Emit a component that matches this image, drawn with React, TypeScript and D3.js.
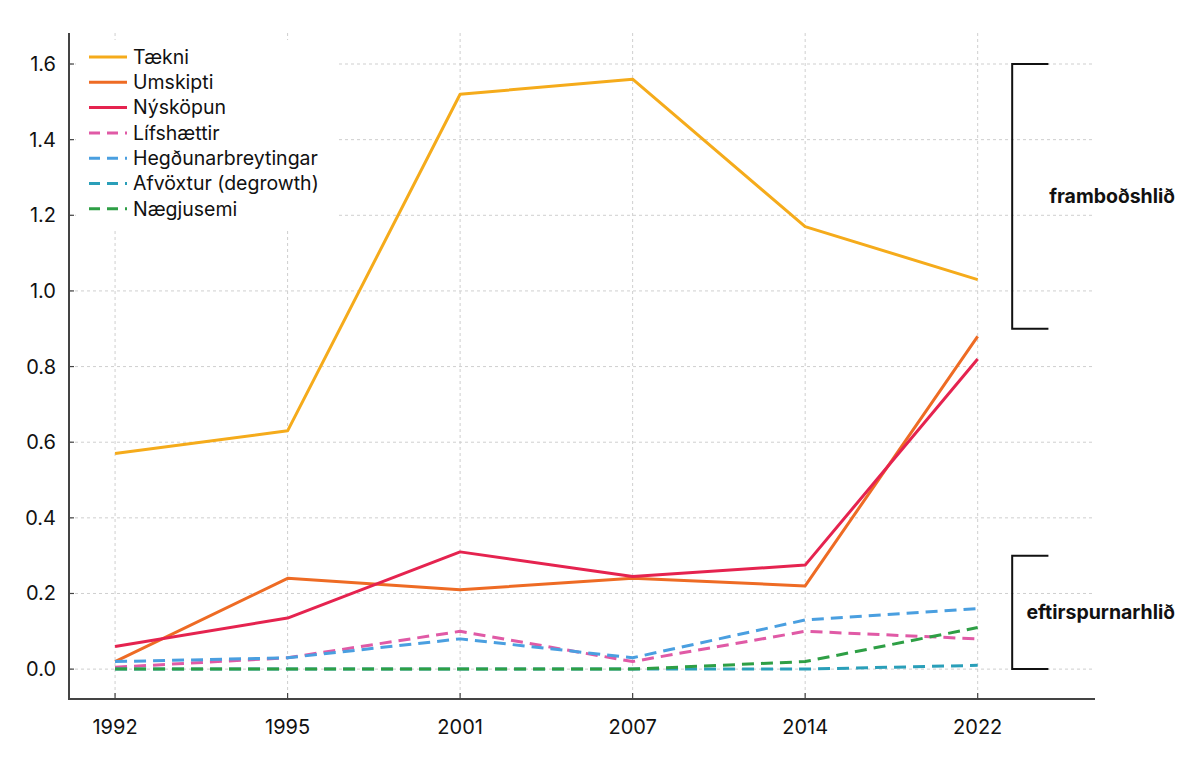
import * as d3 from "d3";

const years = ["1992", "1995", "2001", "2007", "2014", "2022"];

const taekni = [0.57, 0.63, 1.52, 1.56, 1.17, 1.03];
const umskipti = [0.02, 0.24, 0.21, 0.24, 0.22, 0.88];
const nyskopun = [0.06, 0.135, 0.31, 0.245, 0.275, 0.82];
const lifshaettir = [0.005, 0.03, 0.1, 0.02, 0.1, 0.08];
const hegdun = [0.02, 0.03, 0.08, 0.03, 0.13, 0.16];
const afvoxtur = [0, 0, 0, 0, 0, 0.01];
const naegjusemi = [0, 0, 0, 0, 0.02, 0.11];

const yTicks = [0, 0.2, 0.4, 0.6, 0.8, 1.0, 1.2, 1.4, 1.6];

const series = [
  { name: "Tækni", values: taekni, color: "#f5ab1b", dashed: false },
  { name: "Umskipti", values: umskipti, color: "#ee6b24", dashed: false },
  { name: "Nýsköpun", values: nyskopun, color: "#e5234f", dashed: false },
  { name: "Lífshættir", values: lifshaettir, color: "#e05aa6", dashed: true },
  { name: "Hegðunarbreytingar", values: hegdun, color: "#4a9fe0", dashed: true },
  { name: "Afvöxtur (degrowth)", values: afvoxtur, color: "#2a9fb9", dashed: true },
  { name: "Nægjusemi", values: naegjusemi, color: "#2e9f45", dashed: true },
];

// bracket ranges [bottom, top] and labels
const brackets = [
  { label: "framboðshlið", from: 0.9, to: 1.6 },
  { label: "eftirspurnarhlið", from: 0.0, to: 0.3 },
];

const W = 1200;
const H = 758;
const left = 69;
const right = 1095;
const top = 33;
const bottom = 699;

export default function App() {
  const x = d3.scaleLinear().domain([-0.267, 5.68]).range([left, right]);
  const y = d3.scaleLinear().domain([-0.079, 1.682]).range([bottom, top]);

  const line = d3
    .line<number>()
    .x((_, i) => x(i))
    .y((d) => y(d));

  const font = "Inter, 'Liberation Sans', Arial, sans-serif";

  return (
    <svg
      width={W}
      height={H}
      style={{ position: "absolute", left: 0, top: 0, background: "#fff" }}
      fontFamily={font}
    >
      {/* grid */}
      <g stroke="#cfcfcf" strokeWidth={1} strokeDasharray="3,3">
        {yTicks.map((t) => (
          <line key={"h" + t} x1={left} x2={right} y1={y(t)} y2={y(t)} />
        ))}
        {years.map((yr, i) => (
          <line key={"v" + yr} x1={x(i)} x2={x(i)} y1={top} y2={bottom} />
        ))}
      </g>

      {/* lines */}
      {series.map((s) => (
        <path
          key={s.name}
          d={line(s.values) || ""}
          fill="none"
          stroke={s.color}
          strokeWidth={3}
          strokeDasharray={s.dashed ? "12,7" : undefined}
          strokeLinejoin="round"
        />
      ))}

      {/* legend */}
      <rect x={76} y={40} width={262} height={188} fill="#fff" />
      {series.map((s, i) => (
        <g key={"lg" + s.name} transform={`translate(89, ${57 + i * 25.3})`}>
          <line
            x1={0}
            x2={38}
            y1={0}
            y2={0}
            stroke={s.color}
            strokeWidth={3}
            strokeDasharray={s.dashed ? "11,7" : undefined}
          />
          <text x={44} y={0} dy="0.35em" fontSize={19.5} fill="#111">
            {s.name}
          </text>
        </g>
      ))}

      {/* axes */}
      <g stroke="#444" strokeWidth={2}>
        <line x1={left} x2={left} y1={top} y2={bottom + 1} />
        <line x1={left - 1} x2={right} y1={bottom} y2={bottom} />
      </g>
      <g stroke="#444" strokeWidth={1.2}>
        {yTicks.map((t) => (
          <line key={"yt" + t} x1={left} x2={left + 5} y1={y(t)} y2={y(t)} />
        ))}
        {years.map((yr, i) => (
          <line key={"xt" + yr} x1={x(i)} x2={x(i)} y1={bottom} y2={bottom - 6} />
        ))}
      </g>
      {yTicks.map((t) => (
        <text
          key={"yl" + t}
          x={56}
          y={y(t)}
          dy="0.35em"
          textAnchor="end"
          fontSize={20}
          fill="#111"
        >
          {t.toFixed(1)}
        </text>
      ))}
      {years.map((yr, i) => (
        <text
          key={"xl" + yr}
          x={x(i)}
          y={727}
          dy="0.35em"
          textAnchor="middle"
          fontSize={20}
          fill="#111"
        >
          {yr}
        </text>
      ))}

      {/* brackets */}
      {brackets.map((b) => {
        const bx = x(5.2);
        const ax = x(5.41);
        return (
          <g key={b.label}>
            <path
              d={`M${ax},${y(b.to)}H${bx}V${y(b.from)}H${ax}`}
              fill="none"
              stroke="#111"
              strokeWidth={2}
            />
            <text
              x={1175}
              y={y((b.from + b.to) / 2)}
              dy="0.35em"
              textAnchor="end"
              fontSize={19.5}
              fontWeight="bold"
              fill="#111"
            >
              {b.label}
            </text>
          </g>
        );
      })}
    </svg>
  );
}
